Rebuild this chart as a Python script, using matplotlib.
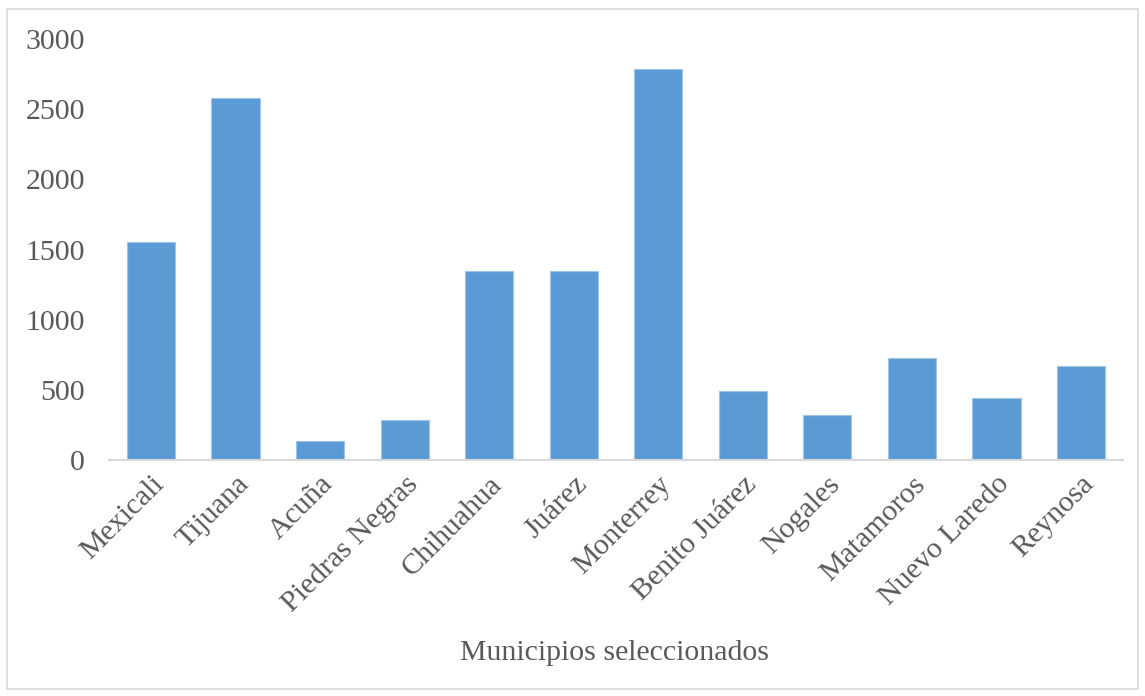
import matplotlib.pyplot as plt
from matplotlib.patches import Rectangle

municipios = ["Mexicali", "Tijuana", "Acuña", "Piedras Negras", "Chihuahua",
              "Juárez", "Monterrey", "Benito Juárez", "Nogales", "Matamoros",
              "Nuevo Laredo", "Reynosa"]
valores = [1553, 2580, 135, 285, 1347, 1350, 2786, 492, 321, 727, 442, 670]
yticks = [0, 500, 1000, 1500, 2000, 2500, 3000]

plt.rcParams["font.family"] = ["Liberation Serif", "DejaVu Serif"]
gris = "#595959"
fs = 21.5

fig = plt.figure(figsize=(11.45, 6.96), dpi=100)
ax = fig.add_axes([0.095, 0.339, 0.886, 0.605])

x = range(len(municipios))
ax.bar(x, valores, width=0.57, color="#5B9BD5", edgecolor="#9DC3E6", linewidth=0.8, zorder=2)

ax.set_xlim(-0.5, len(municipios) - 0.5)
ax.set_ylim(0, 3000)
ax.set_yticks(yticks)
ax.set_yticklabels([str(v) for v in yticks], fontsize=fs, color=gris)
ax.set_xticks(list(x))
ax.set_xticklabels(municipios, rotation=45, ha="right", rotation_mode="anchor",
                   fontsize=fs, color=gris)
ax.tick_params(axis="both", length=0, pad=8)
ax.tick_params(axis="y", pad=17)

for s in ["top", "right", "left"]:
    ax.spines[s].set_visible(False)
ax.spines["bottom"].set_color("#D9D9D9")
ax.spines["bottom"].set_linewidth(1.5)

fig.text(0.537, 0.062, "Municipios seleccionados", ha="center", va="center",
         fontsize=fs, color=gris)

# light border around the whole chart area
fig.patches.append(Rectangle((7 / 1145, 7 / 696), 1131 / 1145, 680 / 696,
                             transform=fig.transFigure, fill=False,
                             edgecolor="#D9D9D9", linewidth=1.2))

fig.savefig("out.png", dpi=100)
